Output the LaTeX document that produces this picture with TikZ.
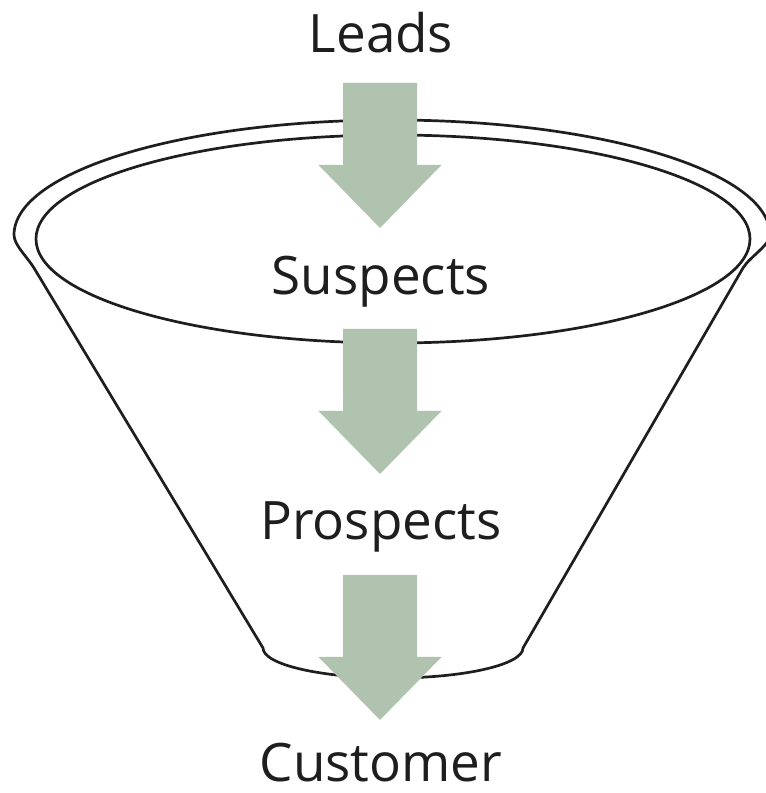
\documentclass[tikz,border=0pt]{standalone}
\usepackage{fontspec}
\setmainfont{Open Sans}
\definecolor{sage}{RGB}{175,195,175}
\definecolor{ink}{RGB}{30,30,30}
\begin{document}
\begin{tikzpicture}[x=1pt,y=1pt,
  rim/.style={line width=2.7pt, draw=ink},
  lbl/.style={font=\fontsize{53}{60}\selectfont, text=ink, anchor=base, inner sep=0pt},
  blockarrow/.style={fill=sage, draw=none}]
\useasboundingbox (0,0) rectangle (766,793);
% funnel
\draw[rim] (393,554) ellipse [x radius=357, y radius=104];
\draw[rim] (263,145) -- (34,525) .. controls (27.8,535.3) and (14,548) .. (14,558)
  arc[start angle=180, end angle=0, x radius=378, y radius=115]
  .. controls (770,548) and (749,535.4) .. (743,525)
  -- (523,145)
  arc[start angle=0, end angle=-180, x radius=130, y radius=30] -- cycle;
% block arrows
\foreach \n/\x/\y in {a1/380/710, a2/380/464, a3/380/218}{
  \coordinate (\n) at (\x,\y);
  \fill[blockarrow] (\n) ++(-37,0) -- ++(74,0) -- ++(0,-82) -- ++(24.5,0)
     -- ++(-61.5,-63) -- ++(-61.5,63) -- ++(24.5,0) -- cycle;
}
% labels
\node[lbl] (leads) at (381,740) {Leads};
\node[lbl] (suspects) at (381,498) {Suspects};
\node[lbl] (prospects) at (381,253) {Prospects};
\node[lbl] (customer) at (381,11) {Customer};
\end{tikzpicture}
\end{document}
